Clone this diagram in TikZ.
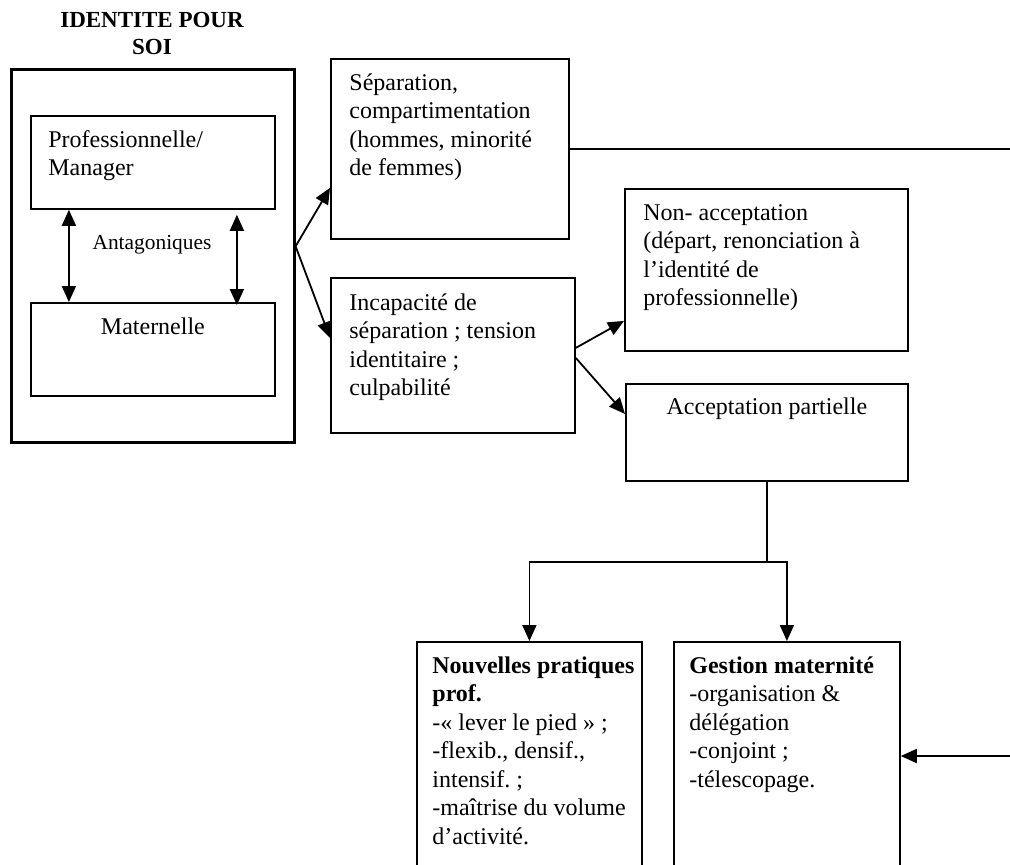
\documentclass[tikz,border=0pt]{standalone}
\usepackage{fontspec}
\setmainfont{Liberation Serif}
\usepackage{xcolor}
\usepackage{tikz}
\usetikzlibrary{calc,positioning,arrows.meta}
\definecolor{ink}{HTML}{000000}
\frenchspacing
\tikzset{
  frame/.style={draw=ink, line width=1.3pt, anchor=north west, inner sep=0pt},
  box/.style={draw=ink, line width=0.9pt, anchor=north west, inner sep=0pt},
  link/.style={draw=ink, line width=0.9pt},
  arr/.style={link, -{Triangle[length=8pt,width=7pt]}},
  dbl/.style={link, {Triangle[length=8pt,width=7pt]}-{Triangle[length=8pt,width=7pt]}},
  txt/.style={text=ink, font=\fontsize{12}{14.25}\selectfont, text width=135pt, align=flush left, anchor=base west, inner sep=0pt},
  txtc/.style={text=ink, font=\fontsize{12}{14.25}\selectfont, anchor=base, inner sep=0pt},
  small/.style={text=ink, font=\fontsize{10.7}{12}\selectfont, anchor=base, inner sep=0pt},
  title/.style={text=ink, font=\bfseries\fontsize{11.5}{13.5}\selectfont, align=center},
}
\begin{document}
\begin{tikzpicture}[x=0.5pt, y=-0.5pt]
  \useasboundingbox (0,0) rectangle (1010,864);
  \clip (0,0) rectangle (1010,864);
  \coordinate (east) at (1010,0);
  \coordinate (feed) at (1010,756);
  % identite pour soi
  \node[title] (ttl) at (152,33) {IDENTITE POUR\\SOI};
  \node[frame, minimum width=141.5pt, minimum height=186.5pt] (soi) at (10,68) {};
  \node[box, minimum width=122pt, minimum height=46.5pt] (prof) at (30,115) {};
  \node[box, minimum width=122pt, minimum height=46.5pt] (mat) at (30,302) {};
  \node[txt] (profT) at ([xshift=9pt,yshift=-16pt]prof.north west) {Professionnelle/\\Manager};
  \node[txtc] (matT) at ([yshift=-16pt]mat.north) {Maternelle};
  \node[small] (ant) at (152,249) {Antagoniques};
  \draw[dbl] ([xshift=-42pt]prof.south) -- ([xshift=-42pt]mat.north);
  \draw[dbl] ([xshift=42pt,yshift=-2.5pt]prof.south) -- ([xshift=42pt,yshift=-1.5pt]mat.north);
  % second column
  \node[box, minimum width=119pt, minimum height=90pt] (sep) at (330,58) {};
  \node[box, minimum width=122pt, minimum height=77.5pt] (inc) at (330,277) {};
  \node[txt] (sepT) at ([xshift=9.5pt,yshift=-16pt]sep.north west)
    {Séparation,\\compartimentation\\(hommes, minorité\\de femmes)};
  \node[txt] (incT) at ([xshift=9.5pt,yshift=-16.5pt]inc.north west)
    {Incapacité de\\séparation ; tension\\identitaire ;\\culpabilité};
  \coordinate (fork) at ([yshift=4.75pt]soi.east);
  \draw[arr] (fork) -- ([yshift=-19.5pt]sep.west);
  \draw[arr] (fork) -- ([yshift=8.75pt]inc.west);
  \draw[link] (sep.east) -- (sep.east -| east);
  % third column
  \node[box, minimum width=141.5pt, minimum height=81pt] (non) at (624,188) {};
  \node[box, minimum width=141pt, minimum height=48.5pt] (acc) at (625,383) {};
  \node[txt] (nonT) at ([xshift=9.5pt,yshift=-16pt]non.north west)
    {Non- acceptation\\(départ, renonciation à\\l’identité de\\professionnelle)};
  \node[txtc] (accT) at ([yshift=-15.5pt]acc.north) {Acceptation partielle};
  \draw[arr] ([yshift=3.75pt]inc.east) -- ([yshift=-25.5pt]non.west);
  \draw[arr] ([yshift=-1.25pt]inc.east) -- ([yshift=9.25pt]acc.west);
  % bottom boxes
  \node[box, minimum width=112.5pt, minimum height=125pt] (npp) at (416,641) {};
  \node[box, minimum width=113pt, minimum height=125pt] (gm) at (673,641) {};
  \node[txt] (nppT) at ([xshift=8pt,yshift=-16pt]npp.north west)
    {\textbf{Nouvelles pratiques}\\\textbf{prof.}\\-« lever le pied » ;\\-flexib., densif.,\\intensif. ;\\-maîtrise du volume\\d’activité.};
  \node[txt] (gmT) at ([xshift=8pt,yshift=-16pt]gm.north west)
    {\textbf{Gestion maternité}\\-organisation \&\\délégation\\-conjoint ;\\-télescopage.};
  \draw[link] (acc.south) -- ++(0,80) coordinate (split);
  \draw[arr] (split) -| (npp.north);
  \draw[arr] (split) -| (gm.north);
  \draw[arr] (feed) -- (feed -| gm.east);
\end{tikzpicture}
\end{document}
